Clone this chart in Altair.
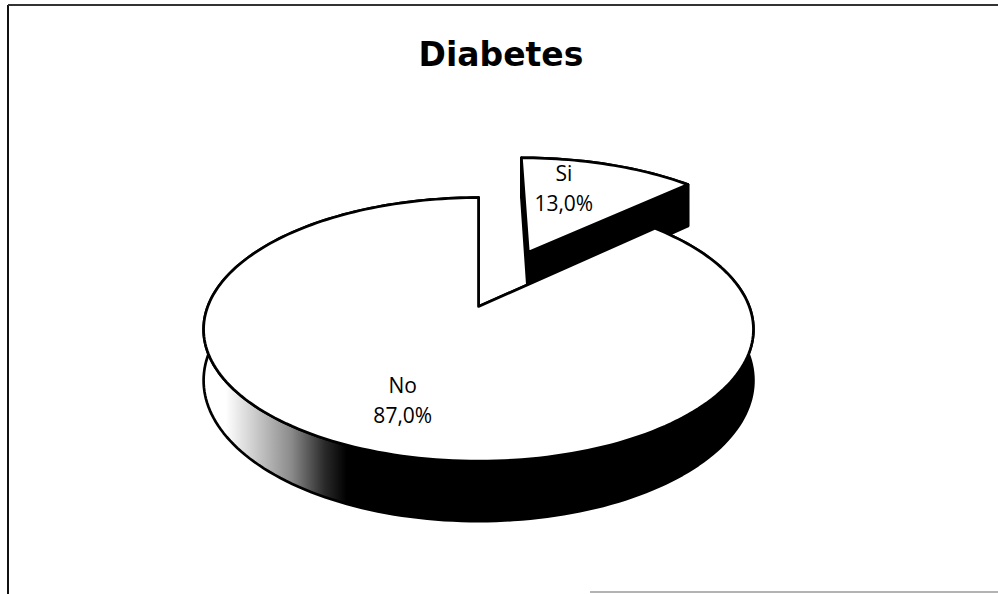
import math
import numpy as np
import pandas as pd
import altair as alt

# ---- data -------------------------------------------------------------
categories = ["Si", "No"]
values = [13.0, 87.0]
value_labels = ["13,0%", "87,0%"]
title_text = "Diabetes"

# ---- style / projection of the 3-D pie (layout parameters) -----------
W, H = 998, 594
CX, CY = 479.0, 307.0        # projected centre of the pie
RX, RY = 271.0, 128.0        # radii of the top face
PERSP = 0.174                # perspective strength (far side smaller)
DEPTH = 49.6                 # thickness of the pie
EXPLODE = {"Si": 0.5, "No": 0.0}
LABEL_R = 0.7
LABEL_SHIFT = {"Si": (-23.0, -13.5), "No": (9.0, -11.5)}


def proj(u, v, z):
    w = 1.0 + PERSP * v
    return CX + RX * u / w, CY - RY * v / w + DEPTH * z / w


rows = []
label_rows = []


def add(poly, cat, kind, pts):
    for i, (x, y) in enumerate(pts):
        rows.append(dict(poly=poly, slice=cat, kind=kind, i=i, x=x, y=y))


total = sum(values)
start = 0.0
for cat, val, lab in zip(categories, values, value_labels):
    a0 = start
    a1 = start + 2 * math.pi * val / total
    start = a1
    mid = (a0 + a1) / 2
    e = EXPLODE[cat]
    ou, ov = e * math.sin(mid), e * math.cos(mid)
    n = max(10, int(120 * (a1 - a0) / math.pi))
    angs = np.linspace(a0, a1, n)
    top_arc = [proj(ou + math.sin(a), ov + math.cos(a), 0) for a in angs]
    bot_arc = [proj(ou + math.sin(a), ov + math.cos(a), 1) for a in angs]
    c0 = proj(ou, ov, 0)
    c1 = proj(ou, ov, 1)
    add(cat + "_outer", cat, "wall", top_arc + bot_arc[::-1])
    for k, a in enumerate((a0, a1)):
        p0 = proj(ou + math.sin(a), ov + math.cos(a), 0)
        p1 = proj(ou + math.sin(a), ov + math.cos(a), 1)
        add(f"{cat}_side{k}", cat, "side", [c0, p0, p1, c1])
    add(cat + "_top", cat, "top", [c0] + top_arc)
    lx, ly = proj(ou + LABEL_R * math.sin(mid), ov + LABEL_R * math.cos(mid), 0)
    dx, dy = LABEL_SHIFT[cat]
    label_rows.append(dict(slice=cat, x=lx + dx, y=ly + dy, text=f"{cat}\n{lab}"))

df = pd.DataFrame(rows)
labels_df = pd.DataFrame(label_rows)

xs = alt.X("x:Q", scale=alt.Scale(domain=[0, W], nice=False, zero=False), axis=None)
ys = alt.Y("y:Q", scale=alt.Scale(domain=[0, H], nice=False, zero=False, reverse=True), axis=None)

base = alt.Chart(df)

shade = alt.LinearGradient(
    gradient="linear",
    stops=[
        alt.GradientStop(color="#ffffff", offset=0.0),
        alt.GradientStop(color="#ffffff", offset=0.04),
        alt.GradientStop(color="#cfcfcf", offset=0.09),
        alt.GradientStop(color="#8a8a8a", offset=0.16),
        alt.GradientStop(color="#2a2a2a", offset=0.22),
        alt.GradientStop(color="#000000", offset=0.26),
        alt.GradientStop(color="#000000", offset=1.0),
    ],
    x1=0, x2=1, y1=0, y2=0,
)


def poly_layer(cat, kinds, fill):
    cond = " || ".join(f"datum.kind == '{k}'" for k in kinds)
    return (
        base.transform_filter(f"datum.slice == '{cat}' && ({cond})")
        .mark_line(interpolate="linear-closed", fill=fill, stroke="black",
                   strokeWidth=2.7, strokeJoin="round")
        .encode(x=xs, y=ys, detail="poly:N", order="i:Q")
    )


layers = []
# back slice first (exploded "Si"), then the large front slice
for cat in ["Si", "No"]:
    wall_fill = "black" if cat == "Si" else shade
    layers.append(poly_layer(cat, ["wall"], wall_fill))
    layers.append(poly_layer(cat, ["side"], "black"))
    layers.append(poly_layer(cat, ["top"], "white"))

text_layer = alt.Chart(labels_df).mark_text(
    font="Open Sans", fontSize=21, lineBreak="\n", lineHeight=30,
    baseline="middle", align="center", color="black",
).encode(x=xs, y=ys, text="text:N")

title_layer = alt.Chart(pd.DataFrame({"t": [title_text]})).mark_text(
    font="DejaVu Sans", fontWeight="bold", fontSize=33, align="center",
    baseline="alphabetic", color="black",
).encode(x=alt.value(501), y=alt.value(66), text="t:N")

frame_df = pd.DataFrame({"k": [0]})
frame_left = alt.Chart(frame_df).mark_rule(color="#111111", strokeWidth=2).encode(
    x=alt.value(8), y=alt.value(5), y2=alt.value(594))
frame_top = alt.Chart(frame_df).mark_rule(color="#333333", strokeWidth=2).encode(
    x=alt.value(8), x2=alt.value(998), y=alt.value(5))
frame_bottom = alt.Chart(frame_df).mark_rule(color="#9a9a9a", strokeWidth=1.5).encode(
    x=alt.value(590), x2=alt.value(998), y=alt.value(592))

chart = alt.layer(*layers, text_layer, title_layer, frame_left, frame_top, frame_bottom).properties(
    width=W, height=H,
    autosize=alt.AutoSizeParams(type="fit", contains="padding"),
    padding=0,
    background="white",
).configure_view(stroke=None)

chart.save("out.html", embed_options={"renderer": "svg", "actions": False})
